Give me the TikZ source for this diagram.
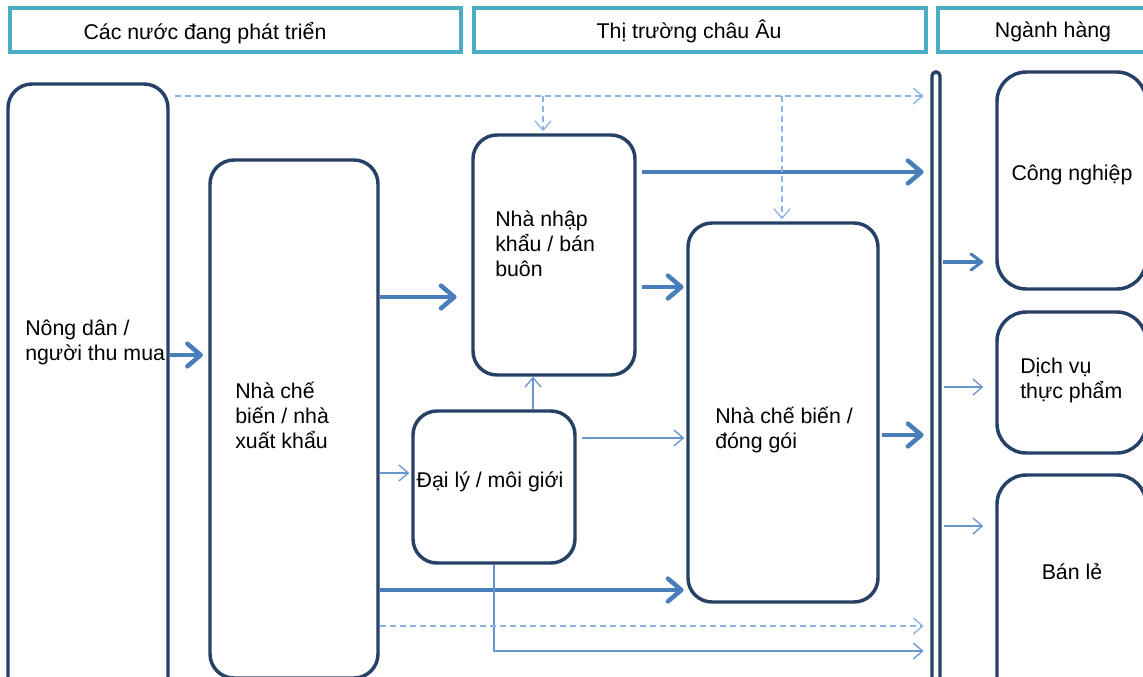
\documentclass[tikz,border=0pt]{standalone}
\usepackage{fontspec}
\setmainfont{Liberation Sans}
\usetikzlibrary{arrows.meta,fit}
\definecolor{navy}{RGB}{38,64,102}
\definecolor{hdrteal}{RGB}{75,172,198}
\definecolor{arrblue}{RGB}{74,126,187}
\definecolor{thinblue}{RGB}{104,150,206}
\definecolor{dashblue}{RGB}{141,179,226}
\tikzset{
  box/.style={draw=navy, line width=2.6pt, rounded corners=18pt, inner sep=0pt},
  bigbox/.style={box, rounded corners=22pt},
  hdr/.style={draw=hdrteal, line width=2.8pt, inner sep=0pt},
  txt/.style={inner sep=0pt, align=left, font=\fontsize{16}{18.75}\selectfont},
  thk/.style={draw=arrblue, line width=3.4pt, -{Straight Barb[length=10pt,width=17pt,round]}},
  med/.style={draw=arrblue, line width=2.3pt, -{Straight Barb[length=8pt,width=12pt,round]}},
  thn/.style={draw=thinblue, line width=1pt, -{Straight Barb[length=7pt,width=12pt]}},
  dsh/.style={thn, draw=dashblue, dash pattern=on 4.5pt off 3pt},
}
\begin{document}
\begin{tikzpicture}[x=0.75pt,y=-0.75pt]
\path[use as bounding box] (0,0) rectangle (1143,676);
\clip (0,0) rectangle (1143,676);
\fill[white] (0,0) rectangle (1143,676);

% headers
\node[hdr, fit={(10,8) (461,52)}] (h1) {};
\node[hdr, fit={(474,8) (926,52)}] (h2) {};
\node[hdr, fit={(938,8) (1160,52)}] (h3) {};
\node[txt] (h1t) at (205,33) {Các nước đang phát triển};
\node[txt] (h2t) at (689,31) {Thị trường châu Âu};
\node[txt] (h3t) at (1053,32) {Ngành hàng};

% boxes
\node[box, fit={(8,84) (168,720)}] (farm) {};
\node[box, fit={(210,160) (378,678)}] (exp) {};
\node[box, fit={(473,135) (635,375)}] (imp) {};
\node[box, fit={(413,411) (575,563)}] (agent) {};
\node[box, fit={(688,223) (878,602)}] (proc) {};
\node[box, rounded corners=3pt, fit={(932,72) (940,720)}] (bar) {};
\node[bigbox, fit={(997,72) (1146,289)}] (ind) {};
\node[bigbox, fit={(997,312) (1146,453)}] (food) {};
\node[bigbox, fit={(997,475) (1146,720)}] (retail) {};

% texts
\node[txt, anchor=west] (farmt) at (25,342) {Nông dân /\\người thu mua};
\node[txt, anchor=west] (expt) at (235,415) {Nhà chế\\biến / nhà\\xuất khẩu};
\node[txt, anchor=west] (impt) at (495,244) {Nhà nhập\\khẩu / bán\\buôn};
\node[txt] (agentt) at (490,482) {Đại lý / môi giới};
\node[txt, anchor=west] (proct) at (715,430) {Nhà chế biến /\\đóng gói};
\node[txt] (indt) at (1072,175) {Công nghiệp};
\node[txt, anchor=west] (foodt) at (1020,380) {Dịch vụ\\thực phẩm};
\node[txt] (retailt) at (1072,572) {Bán lẻ};

% thick arrows
\draw[thk, shorten >=4pt] (farm.east |- 0,355) -- (exp.west |- 0,355);
\draw[thk, shorten >=11pt] (exp.east |- 0,297) -- (imp.west |- 0,297);
\draw[thk, shorten <=4pt, shorten >=5pt] (imp.east |- 0,172) -- (bar.west |- 0,172);
\draw[thk, shorten <=4pt, shorten >=2pt] (imp.east |- 0,287) -- (proc.west |- 0,287);
\draw[thk, shorten <=1.5pt, shorten >=5pt] (proc.east |- 0,435) -- (bar.west |- 0,435);
\draw[thk, shorten >=2pt] (exp.east |- 0,590) -- (proc.west |- 0,590);
\draw[med, shorten <=1pt, shorten >=9pt] (bar.east |- 0,262) -- (ind.west |- 0,262);

% thin arrows
\draw[thn, shorten <=1.5pt, shorten >=9pt] (bar.east |- 0,387) -- (food.west |- 0,387);
\draw[thn, shorten <=1.5pt, shorten >=9pt] (bar.east |- 0,526) -- (retail.west |- 0,526);
\draw[thn, shorten >=1.5pt] (exp.east |- 0,473) -- (agent.west |- 0,473);
\draw[thn] (533,0 |- agent.north) -- (533,0 |- imp.south);
\draw[thn, shorten <=4pt, shorten >=1.5pt] (agent.east |- 0,438) -- (proc.west |- 0,438);
\draw[thn, shorten >=5pt] (agent.south) -- (agent.south |- 0,651) -- (bar.west |- 0,651);

% dashed arrows
\coordinate (dstart) at (175,96);
\coordinate (br1) at (543,96);
\coordinate (br2) at (782,96);
\draw[dsh, shorten >=5pt] (dstart) -- (bar.west |- dstart);
\draw[dsh, shorten >=1.5pt] (br1) -- (br1 |- imp.north);
\draw[dsh, shorten >=1.5pt] (br2) -- (br2 |- proc.north);
\draw[dsh, shorten >=5pt] (exp.east |- 0,626) -- (bar.west |- 0,626);
\end{tikzpicture}
\end{document}
